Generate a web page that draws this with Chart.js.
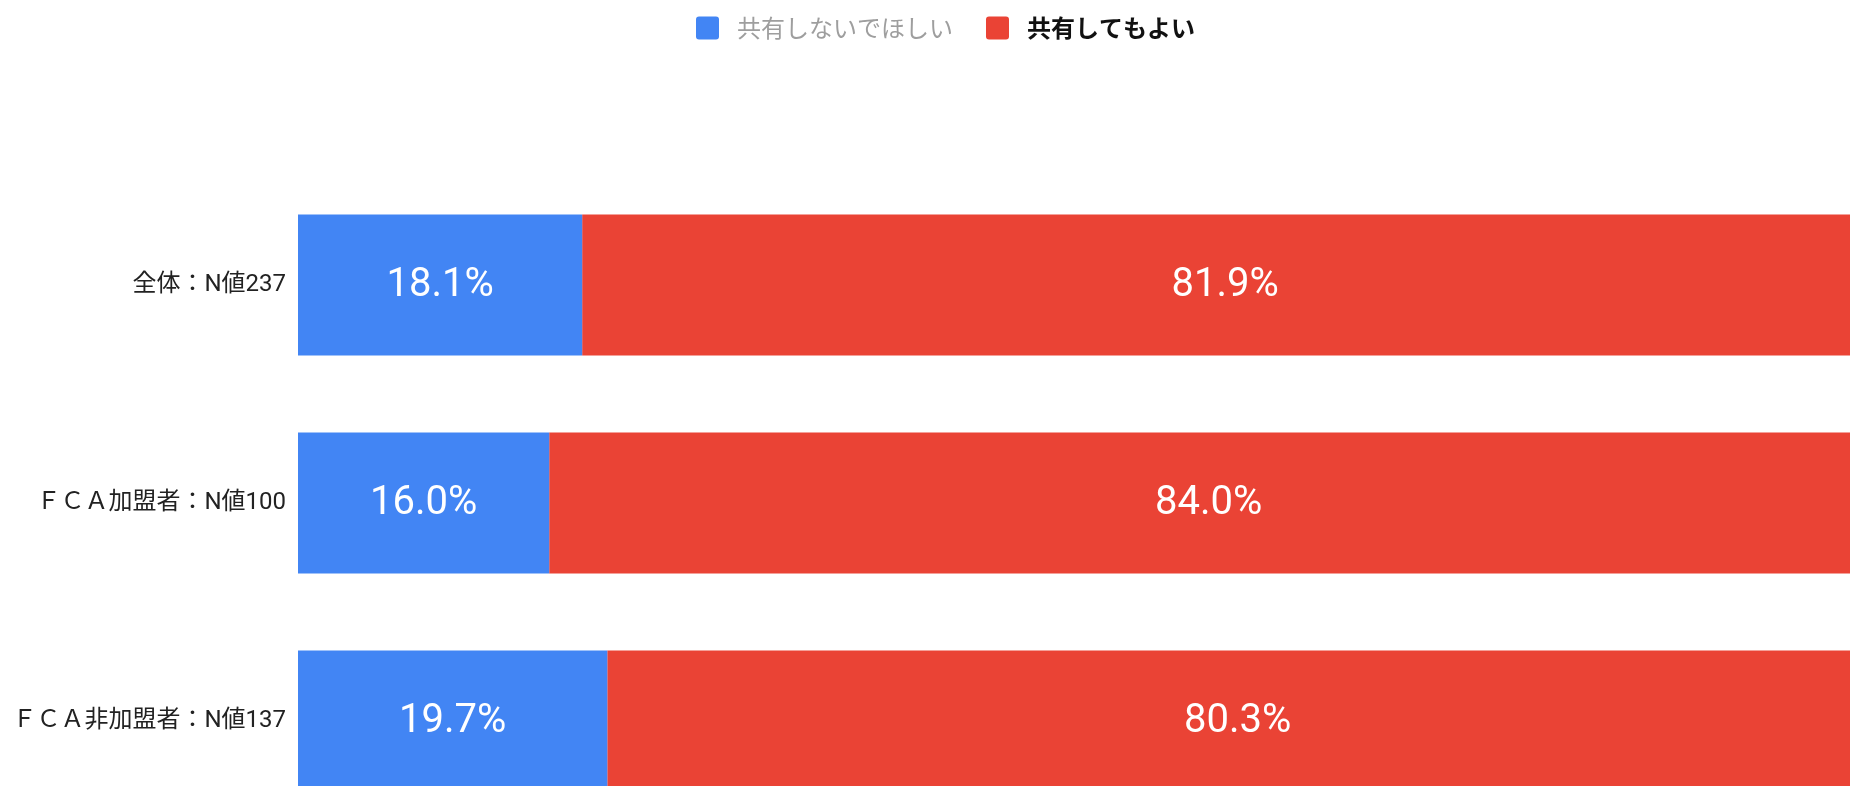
<!DOCTYPE html>
<html>
<head>
<meta charset="utf-8">
<script src="https://cdn.jsdelivr.net/npm/chart.js@4/dist/chart.umd.min.js"></script>
<style>
  html, body { margin: 0; padding: 0; overflow: hidden; background: #fff; }
  #wrap { position: absolute; left: 0; top: 0; }
</style>
</head>
<body>
<div id="wrap"><canvas id="myChart" width="1891" height="830"></canvas></div>
<script>
const categories = ['全体：N値237', 'ＦＣＡ加盟者：N値100', 'ＦＣＡ非加盟者：N値137'];
const seriesNames = ['共有しないでほしい', '共有してもよい'];
const notShare = [18.1, 16.0, 19.7];
const okShare = [81.9, 84.0, 80.3];
const colors = ['#4285f4', '#ea4335'];
const legendTextColors = ['#9e9e9e', '#111'];
const legendWeights = ['normal', 'bold'];

const cjkFont = "Roboto, 'Noto Sans CJK JP', sans-serif";

// Legend drawn by hand so each entry can have its own colour and weight
const topLegend = {
    id: 'topLegend',
    afterDraw(chart) {
        const {ctx, width} = chart;
        const box = 23, boxGap = 18, itemGap = 33, cy = 28;
        ctx.save();
        const widths = chart.data.datasets.map((ds, i) => {
            ctx.font = `${legendWeights[i]} 24px 'Noto Sans CJK JP', sans-serif`;
            return ctx.measureText(ds.label).width;
        });
        const total = widths.reduce((a, w) => a + box + boxGap + w, 0) + itemGap * (widths.length - 1);
        let x = width / 2 - total / 2;
        chart.data.datasets.forEach((ds, i) => {
            ctx.fillStyle = ds.backgroundColor;
            ctx.beginPath();
            ctx.roundRect(x, cy - box / 2, box, box, 3);
            ctx.fill();
            x += box + boxGap;
            ctx.font = `${legendWeights[i]} 24px 'Noto Sans CJK JP', sans-serif`;
            ctx.fillStyle = legendTextColors[i];
            ctx.textBaseline = 'middle';
            ctx.textAlign = 'left';
            ctx.fillText(ds.label, x, cy);
            x += widths[i] + itemGap;
        });
        ctx.restore();
    }
};

// Percent values written in the middle of each bar segment
const barValues = {
    id: 'barValues',
    afterDatasetsDraw(chart) {
        const {ctx} = chart;
        ctx.save();
        ctx.font = "40px Roboto, sans-serif";
        ctx.fillStyle = '#fff';
        ctx.textAlign = 'center';
        ctx.textBaseline = 'middle';
        chart.data.datasets.forEach((ds, i) => {
            const meta = chart.getDatasetMeta(i);
            meta.data.forEach((bar, j) => {
                const {x, y} = bar.getCenterPoint();
                ctx.fillText(ds.data[j].toFixed(1) + '%', x, y + 1);
            });
        });
        ctx.restore();
    }
};

const ctx = document.getElementById('myChart');

new Chart(ctx, {
    type: 'bar',
    data: {
        labels: categories,
        datasets: [
            {label: seriesNames[0], data: notShare, backgroundColor: colors[0]},
            {label: seriesNames[1], data: okShare, backgroundColor: colors[1]}
        ]
    },
    options: {
        indexAxis: 'y',
        responsive: false,
        animation: false,
        categoryPercentage: 1,
        barPercentage: 0.647,
        layout: {padding: {top: 176, right: 23, bottom: 0, left: 0}},
        scales: {
            x: {
                stacked: true,
                min: 0,
                max: 100,
                display: false
            },
            y: {
                stacked: true,
                grid: {display: false, drawTicks: false},
                border: {display: false},
                ticks: {
                    padding: 12,
                    color: '#222',
                    font: {family: cjkFont, size: 24}
                },
                afterFit(scale) {
                    // fixed label column, no extra room kept for label overhang
                    scale.width = 298;
                    scale.paddingTop = 0;
                    scale.paddingBottom = 0;
                }
            }
        },
        plugins: {
            legend: {display: false},
            tooltip: {enabled: false}
        }
    },
    plugins: [topLegend, barValues]
});
</script>
</body>
</html>
